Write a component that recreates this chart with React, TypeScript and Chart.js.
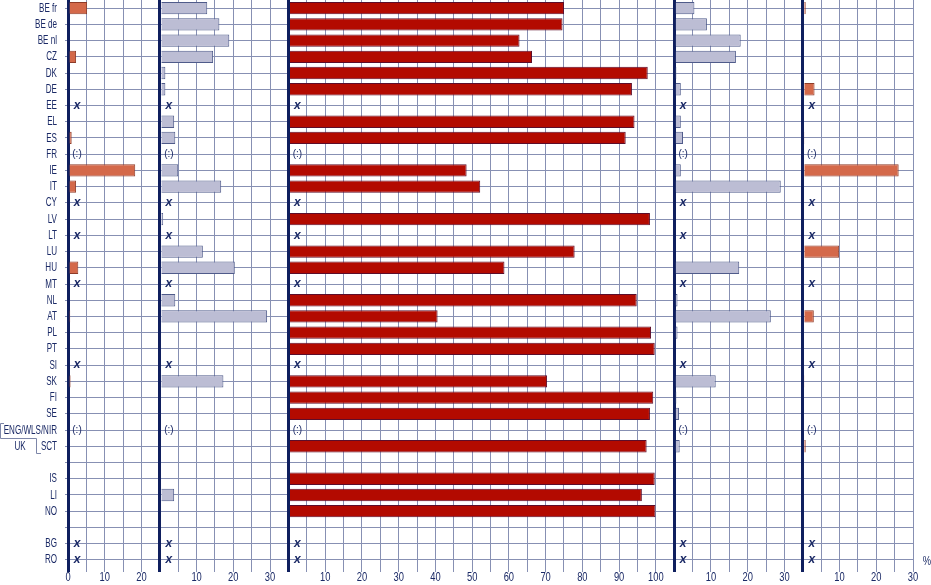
import React, { useEffect, useRef } from 'react';
import { Chart, registerables } from 'chart.js';

Chart.register(...registerables);

// ---- data ----
const categories = [
  'BE fr', 'BE de', 'BE nl', 'CZ', 'DK', 'DE', 'EE', 'EL', 'ES', 'FR', 'IE', 'IT',
  'CY', 'LV', 'LT', 'LU', 'HU', 'MT', 'NL', 'AT', 'PL', 'PT', 'SI', 'SK', 'FI', 'SE',
  'ENG/WLS/NIR', 'SCT', '', 'IS', 'LI', 'NO', '', 'BG', 'RO',
];

// 'x' = not applicable, ':' = not available, '-' = spacer row
const flags = [
  '', '', '', '', '', '', 'x', '', '', ':', '', '',
  'x', '', 'x', '', '', 'x', '', '', '', '', 'x', '', '', '',
  ':', '', '-', '', '', '', '-', 'x', 'x',
];

const panel1 = [5.2, 0, 0, 2.2, 0, 0, null, 0, 1.0, null, 18.3, 2.2,
  null, 0, null, 0, 2.8, null, 0, 0.6, 0, 0, null, 0.7, 0, 0,
  null, 0, null, 0, 0, 0, null, null, null];

const panel2 = [12.9, 16.2, 18.9, 14.5, 1.5, 1.5, null, 3.9, 4.2, null, 5.0, 16.7,
  null, 0.9, null, 11.7, 20.4, null, 4.2, 29.2, 0.4, 0, null, 17.3, 0, 0,
  null, 0, null, 0, 3.9, 0, null, null, null];

const panel3 = [75.0, 74.6, 62.9, 66.3, 97.8, 93.5, null, 94.2, 91.8, null, 48.5, 52.2,
  null, 98.4, null, 77.9, 58.8, null, 94.8, 40.6, 98.7, 99.7, null, 70.4, 99.3, 98.4,
  null, 97.5, null, 99.7, 96.2, 99.9, null, null, null];

const panel4 = [5.5, 8.9, 18.1, 16.8, 0.6, 1.8, null, 1.8, 2.4, null, 1.8, 29.0,
  null, 0.4, null, 0, 17.7, null, 0.9, 26.3, 0.9, 0.4, null, 11.3, 0.6, 1.3,
  null, 1.5, null, 0, 0, 0, null, null, null];

const panel5 = [0.8, 0, 0, 0, 0, 3.2, null, 0, 0.3, null, 26.1, 0,
  null, 0, null, 9.9, 0, null, 0, 3.0, 0, 0, null, 0.3, 0, 0,
  null, 0.8, null, 0, 0, 0, null, null, null];

const panelMax = [25, 35, 105, 35, 30];

// ---- styles ----
const FONT = '"Liberation Sans", Arial, sans-serif';
const NAVY = '#1b2a66';
const AXIS = '#0f1f5e';
const GRID = '#8790b3';
const fills = ['#d4694a', '#bcbdd4', '#b30a00', '#bcbdd4', '#d4694a'];
const borders = ['#8e3b28', '#4f5b8a', '#5c0d2a', '#4f5b8a', '#8e3b28'];
const Y_SQUEEZE = 0.62;
const X_SQUEEZE = 0.72;
const Y_TICK_LEN = 3;
const Y_PAD = 8;

// draw a scale's tick labels horizontally condensed around each label's anchor
function squeezeLabels(s: any, k: number) {
  if (s._squeezed) return;
  s._squeezed = true;
  const orig = s.drawLabels.bind(s);
  s.drawLabels = (area: any) => {
    const c = s.ctx;
    const proto = Object.getPrototypeOf(c).fillText;
    c.fillText = function (t: string, x: number, y: number, mw?: number) {
      c.save();
      c.translate(x, y);
      c.scale(k, 1);
      if (mw === undefined) proto.call(c, t, 0, 0);
      else proto.call(c, t, 0, 0, mw);
      c.restore();
    };
    try {
      orig(area);
    } finally {
      delete c.fillText;
    }
  };
}

const overlayPlugin = {
  id: 'overlay',
  afterDatasetsDraw(chart: any) {
    const ctx = chart.ctx;
    const ys = chart.scales.y;
    ctx.save();
    ctx.fillStyle = NAVY;
    ctx.textAlign = 'center';
    ctx.textBaseline = 'middle';
    panelMax.forEach((_, i) => {
      const xs = chart.scales['x' + i];
      const x0 = xs.getPixelForValue(0) + 9;
      flags.forEach((f, j) => {
        const yy = ys.getPixelForValue(j);
        if (f === 'x') {
          ctx.font = 'bold italic 12px ' + FONT;
          ctx.fillText('x', x0, yy);
        } else if (f === ':') {
          ctx.font = '10px ' + FONT;
          ctx.fillText('(:)', x0, yy);
        }
      });
    });
    // UK bracket
    const iE = categories.indexOf('ENG/WLS/NIR');
    const iS = categories.indexOf('SCT');
    const yE = ys.getPixelForValue(iE);
    const yS = ys.getPixelForValue(iS);
    const mid = Math.round((yE + yS) / 2) + 0.5;
    const top = Math.round(yE - 7) + 0.5;
    const bot = Math.round(yS + 7) + 0.5;
    ctx.strokeStyle = '#7d86a8';
    ctx.lineWidth = 1;
    ctx.beginPath();
    ctx.moveTo(4, top);
    ctx.lineTo(0.5, top);
    ctx.lineTo(0.5, mid);
    ctx.lineTo(36.5, mid);
    ctx.lineTo(36.5, bot);
    ctx.lineTo(41, bot);
    ctx.stroke();
    ctx.save();
    ctx.translate(20, yS);
    ctx.scale(Y_SQUEEZE, 1);
    ctx.font = '13px ' + FONT;
    ctx.fillText('UK', 0, 0);
    ctx.restore();
    // percent sign
    ctx.save();
    ctx.translate(chart.chartArea.right + 14, ys.getPixelForValue(categories.length - 1) + 2);
    ctx.scale(X_SQUEEZE, 1);
    ctx.font = '13px ' + FONT;
    ctx.fillText('%', 0, 0);
    ctx.restore();
    ctx.restore();
  },
};

export default function App() {
  const ref = useRef<HTMLCanvasElement | null>(null);

  useEffect(() => {
    if (!ref.current) return;
    const series = [panel1, panel2, panel3, panel4, panel5];
    const scales: any = {
      y: {
        type: 'category',
        position: 'left',
        offset: true,
        afterFit: (s: any) => {
          s.width = 68;
          s.paddingTop = 0;
          s.paddingBottom = 0;
          squeezeLabels(s, Y_SQUEEZE);
        },
        grid: { offset: false, color: GRID, lineWidth: 1, tickLength: Y_TICK_LEN },
        border: { display: false },
        ticks: { color: NAVY, font: { family: FONT, size: 13 }, padding: Y_PAD, autoSkip: false },
      },
    };
    panelMax.forEach((max, i) => {
      const isEdge = (v: number) => v === 0 || (v === max && i < panelMax.length - 1);
      scales['x' + i] = {
        type: 'linear',
        position: 'bottom',
        stack: 'panels',
        stackWeight: max,
        min: 0,
        max,
        offset: false,
        afterFit: (s: any) => {
          s.height = 17;
          squeezeLabels(s, X_SQUEEZE);
        },
        border: { display: false },
        grid: {
          tickLength: 4,
          color: (c: any) => (c.tick && isEdge(c.tick.value) ? AXIS : GRID),
          lineWidth: (c: any) => (c.tick && isEdge(c.tick.value) ? 3 : 1),
        },
        ticks: {
          stepSize: 5,
          autoSkip: false,
          maxRotation: 0,
          padding: -2,
          color: NAVY,
          font: { family: FONT, size: 13 },
          callback: (v: any) => (v % 10 === 0 && (i === 0 || v !== 0) ? String(v) : ''),
        },
      };
    });

    const chart = new Chart(ref.current, {
      type: 'bar',
      data: {
        labels: categories,
        datasets: series.map((d, i) => ({
          data: d,
          xAxisID: 'x' + i,
          yAxisID: 'y',
          grouped: false,
          backgroundColor: fills[i],
          borderColor: borders[i],
          borderWidth: 1,
          barPercentage: 0.76,
          categoryPercentage: 1,
        })),
      },
      options: {
        indexAxis: 'y',
        responsive: false,
        animation: false,
        layout: { padding: { right: 18, left: 0, top: 0, bottom: 0 } },
        plugins: { legend: { display: false }, tooltip: { enabled: false } },
        scales,
      } as any,
      plugins: [overlayPlugin],
    });
    return () => chart.destroy();
  }, []);

  return (
    <div style={{ position: 'absolute', left: 0, top: 0, width: 931, height: 585, background: '#fff' }}>
      <canvas ref={ref} width={931} height={585} style={{ width: 931, height: 585, display: 'block' }} />
    </div>
  );
}
